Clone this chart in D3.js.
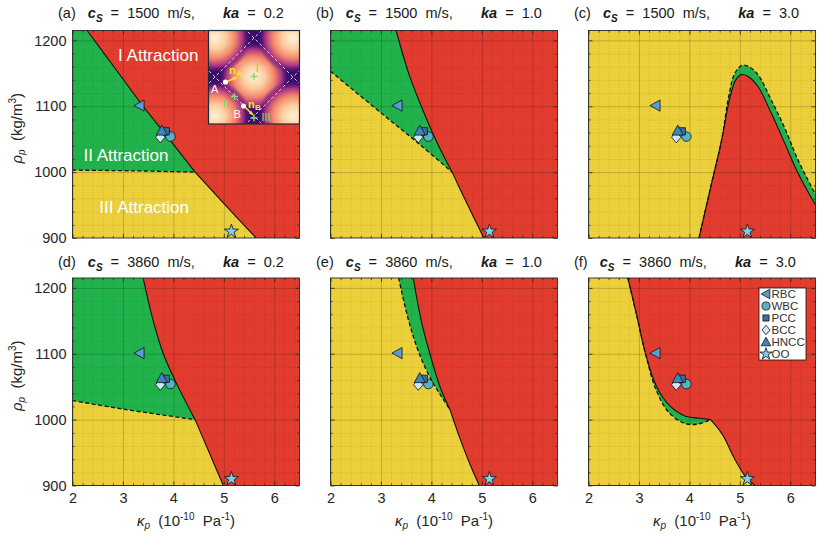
<!DOCTYPE html>
<html>
<head>
<meta charset="utf-8">
<script src="https://cdn.jsdelivr.net/npm/d3@7"></script>
<style>
  body { margin: 0; background: #fff; }
  text { font-family: Arial, "Liberation Sans", sans-serif; }
</style>
</head>
<body>
<script>
const W = 823, H = 537;

// axes
const kRange = [2, 6.5], rRange = [900, 1215];
const kTicks = [2, 3, 4, 5, 6], rTicks = [900, 1000, 1100, 1200];

// panel titles
const panelTags = ["(a)", "(b)", "(c)", "(d)", "(e)", "(f)"];
const soundSpeed = [1500, 1500, 1500, 3860, 3860, 3860];
const kaValues = ["0.2", "1.0", "3.0", "0.2", "1.0", "3.0"];

// region boundaries [kappa, rho]
// up* = solid I boundary above the junction, dash* = dashed II/III boundary, low* = shared solid below the junction
const upA   = [[2.29,1215],[2.85,1157],[3.40,1100],[3.92,1050],[4.43,1000]];
const dashA = [[2,1003],[3.2,1002],[4.43,1000]];
const lowA  = [[4.43,1000],[5.03,950],[5.64,900]];

const upB   = [[3.30,1215],[3.55,1150],[3.80,1100],[4.08,1050],[4.41,1000]];
const dashB = [[2,1153],[3,1090],[3.8,1040],[4.41,1000]];
const lowB  = [[4.41,1000],[4.72,950],[5.04,900]];

const solidC = [[4.19,900],[4.44,983],[4.64,1049],[4.80,1112],[4.92,1140],[5.03,1148],[5.15,1146],[5.36,1130],[5.62,1090],[5.89,1044],[6.15,999],[6.5,950]];
const dashC  = [[4.19,900],[4.44,983],[4.64,1049],[4.78,1115],[4.90,1150],[5.04,1162],[5.18,1160],[5.36,1148],[5.62,1110],[5.89,1067],[6.15,1019],[6.5,966]];

const upD   = [[3.40,1215],[3.60,1150],[3.80,1100],[4.08,1052],[4.43,1000]];
const dashD = [[2,1029],[3,1016],[4.43,1000]];
const lowD  = [[4.43,1000],[4.71,950],[4.99,900]];

const upE   = [[3.64,1215],[3.80,1150],[3.97,1100],[4.17,1050],[4.37,1015]];
const dashE = [[3.35,1215],[3.55,1150],[3.76,1100],[4.0,1060],[4.2,1035],[4.37,1015]];
const lowE  = [[4.37,1015],[4.55,975],[4.75,935],[4.95,900]];

const upF   = [[2.78,1215],[2.95,1160],[3.13,1100],[3.35,1050],[3.6,1022],[3.9,1006],[4.2,1002],[4.42,1000]];
const dashF = [[2.78,1215],[2.95,1160],[3.13,1100],[3.33,1047],[3.58,1012],[3.88,995],[4.15,993],[4.42,1000]];
const lowF  = [[4.42,1000],[4.65,978],[4.9,940],[5.1,915],[5.3,900]];

// cells
const cellNames = ["RBC", "WBC", "PCC", "BCC", "HNCC", "OO"];
const cellKappa = [3.33, 3.94, 3.85, 3.74, 3.77, 5.15];
const cellRho   = [1101, 1054, 1062, 1053, 1063, 910];
const cellColor = ["#5a9bd5", "#56b3c6", "#3d6f98", "#cfe7f8", "#3a87c0", "#86cdea"];

// region labels in (a)
const regionLabels = ["I Attraction", "II Attraction", "III Attraction"];
const labelK = [3.70, 3.06, 3.42];
const labelR = [1178, 1026, 947];

const col = { R: "#e23c2f", G: "#22b24c", Y: "#ecd03b" };
const BL = [2, 900], TL = [2, 1215], BR = [6.5, 900];

const panels = [
  { bg: "R", fills: [["G", [upA, lowA], [BL, TL]], ["Y", [dashA, lowA], [BL]]], solid: [upA, lowA], dash: [dashA] },
  { bg: "R", fills: [["G", [upB, lowB], [BL, TL]], ["Y", [dashB, lowB], [BL]]], solid: [upB, lowB], dash: [dashB] },
  { bg: "Y", fills: [["G", [dashC], [BR]], ["R", [solidC], [BR]]], solid: [solidC], dash: [dashC] },
  { bg: "R", fills: [["G", [upD, lowD], [BL, TL]], ["Y", [dashD, lowD], [BL]]], solid: [upD, lowD], dash: [dashD] },
  { bg: "R", fills: [["G", [upE, lowE], [BL, TL]], ["Y", [dashE, lowE], [BL, TL]]], solid: [upE, lowE], dash: [dashE] },
  { bg: "R", fills: [["G", [upF, lowF], [BL, TL]], ["Y", [dashF, lowF], [BL, TL]]], solid: [upF, lowF], dash: [dashF] }
];

const colLeft = [72.5, 330.5, 588.5], rowTop = [30.5, 278];
const pw = 227, ph = 207.5;

const svg = d3.select("body").append("svg").attr("width", W).attr("height", H);
const defs = svg.append("defs");

const x = d3.scaleLinear().domain(kRange).range([0, pw]);
const y = d3.scaleLinear().domain(rRange).range([ph, 0]);
const curve = d3.line().x(d => x(d[0])).y(d => y(d[1])).curve(d3.curveCatmullRom.alpha(0.5));

function joined(segs) {
  return segs.map((s, k) => k === 0 ? curve(s) : curve(s).replace(/^M/, "L")).join("");
}
function regionPath(segs, close) {
  let p = joined(segs);
  close.forEach(c => { p += "L" + x(c[0]) + "," + y(c[1]); });
  return p + "Z";
}

// marker shapes
function marker(name, s) {
  const r = 5.6 * s;
  if (name === "RBC") return `M${-r},0L${r*0.8},${-r}L${r*0.8},${r}Z`;
  if (name === "HNCC") return `M0,${-r}L${r},${r*0.8}L${-r},${r*0.8}Z`;
  if (name === "WBC") return d3.symbol(d3.symbolCircle, 72 * s * s)();
  if (name === "PCC") return d3.symbol(d3.symbolSquare, 52 * s * s)();
  if (name === "BCC") return `M0,${-r}L${r*0.85},0L0,${r}L${-r*0.85},0Z`;
  return d3.symbol(d3.symbolStar, 62 * s * s)();
}

function styleAxis(g) {
  g.select(".domain").remove();
  g.selectAll(".tick line").attr("stroke", "#262626").attr("stroke-width", 0.8);
  g.selectAll(".tick text").attr("fill", "#262626").attr("font-size", 14.5)
    .style("font-family", "Arial, 'Liberation Sans', sans-serif");
}
function gridStyle(dotted) {
  return a => {
    a.select(".domain").remove();
    a.selectAll("line").attr("stroke", dotted ? "rgba(0,0,0,0.22)" : "rgba(0,0,0,0.24)")
      .attr("stroke-width", dotted ? 0.6 : 0.8).attr("stroke-dasharray", dotted ? "1,2" : null);
  };
}

const minorK = x.ticks(22).filter(v => Math.abs(v - Math.round(v)) > 1e-6);
const minorR = y.ticks(16).filter(v => v % 100 !== 0);

panels.forEach((p, i) => {
  const ci = i % 3, ri = Math.floor(i / 3);
  const g = svg.append("g").attr("transform", `translate(${colLeft[ci]},${rowTop[ri]})`);

  defs.append("clipPath").attr("id", "clip" + i)
    .append("rect").attr("width", pw).attr("height", ph);
  const body = g.append("g").attr("clip-path", `url(#clip${i})`);

  body.append("rect").attr("width", pw).attr("height", ph).attr("fill", col[p.bg]);
  p.fills.forEach(f => {
    body.append("path").attr("d", regionPath(f[1], f[2])).attr("fill", col[f[0]]);
  });

  // grid
  body.append("g").attr("transform", `translate(0,${ph})`)
    .call(d3.axisBottom(x).tickValues(minorK).tickSize(-ph).tickFormat("")).call(gridStyle(true));
  body.append("g")
    .call(d3.axisLeft(y).tickValues(minorR).tickSize(-pw).tickFormat("")).call(gridStyle(true));
  body.append("g").attr("transform", `translate(0,${ph})`)
    .call(d3.axisBottom(x).tickValues(kTicks).tickSize(-ph).tickFormat("")).call(gridStyle(false));
  body.append("g")
    .call(d3.axisLeft(y).tickValues(rTicks).tickSize(-pw).tickFormat("")).call(gridStyle(false));

  // boundaries
  p.dash.forEach(s => body.append("path").attr("d", curve(s)).attr("fill", "none")
    .attr("stroke", "#111").attr("stroke-width", 1.3).attr("stroke-dasharray", "4,2.5"));
  body.append("path").attr("d", joined(p.solid)).attr("fill", "none")
    .attr("stroke", "#111").attr("stroke-width", 1.1).attr("stroke-linejoin", "round");

  // region labels
  if (i === 0) {
    regionLabels.forEach((t, j) => {
      body.append("text").attr("x", x(labelK[j])).attr("y", y(labelR[j]) + 6)
        .attr("text-anchor", "middle").attr("fill", "#fff").attr("font-size", 17).text(t);
    });
  }

  // cells
  cellNames.forEach((n, j) => {
    g.append("path").attr("d", marker(n, 1))
      .attr("transform", `translate(${x(cellKappa[j])},${y(cellRho[j])})`)
      .attr("fill", cellColor[j]).attr("stroke", "#111").attr("stroke-width", 0.8);
  });

  // frame and ticks
  g.append("rect").attr("width", pw).attr("height", ph).attr("fill", "none")
    .attr("stroke", "#262626").attr("stroke-width", 0.9);
  const bottomLab = ri === 1;
  g.append("g").attr("transform", `translate(0,${ph})`)
    .call(d3.axisBottom(x).tickValues(kTicks).tickSize(-4).tickPadding(7).tickFormat(bottomLab ? d3.format("d") : ""))
    .call(styleAxis);
  g.append("g").attr("transform", `translate(0,${ph})`)
    .call(d3.axisBottom(x).tickValues(minorK).tickSize(-2).tickFormat("")).call(styleAxis);
  g.append("g").call(d3.axisTop(x).tickValues(kTicks).tickSize(-4).tickFormat("")).call(styleAxis);
  g.append("g").call(d3.axisTop(x).tickValues(minorK).tickSize(-2).tickFormat("")).call(styleAxis);
  g.append("g")
    .call(d3.axisLeft(y).tickValues(rTicks).tickSize(-4).tickPadding(6).tickFormat(ci === 0 ? d3.format("d") : ""))
    .call(styleAxis);
  g.append("g").call(d3.axisLeft(y).tickValues(minorR).tickSize(-2).tickFormat("")).call(styleAxis);
  g.append("g").attr("transform", `translate(${pw},0)`)
    .call(d3.axisRight(y).tickValues(rTicks).tickSize(-4).tickFormat("")).call(styleAxis);
  g.append("g").attr("transform", `translate(${pw},0)`)
    .call(d3.axisRight(y).tickValues(minorR).tickSize(-2).tickFormat("")).call(styleAxis);

  // title
  const t = g.append("text").attr("x", -14.5).attr("y", ri === 0 ? -12.2 : -11.5)
    .attr("font-size", 14.5).attr("fill", "#1a1a1a").attr("xml:space", "preserve").style("white-space", "pre");
  t.append("tspan").text(panelTags[i] + "   ");
  t.append("tspan").attr("font-weight", "bold").attr("font-style", "italic").text("c");
  t.append("tspan").attr("font-weight", "bold").attr("font-style", "italic").attr("font-size", 10).attr("dy", 4).text("S");
  t.append("tspan").attr("dy", -4).text("  =  " + soundSpeed[i] + "  m/s,       ");
  t.append("tspan").attr("font-weight", "bold").attr("font-style", "italic").text("ka");
  t.append("tspan").text("  =  " + kaValues[i]);

  // axis labels
  if (ci === 0) {
    const yl = g.append("text").attr("transform", `translate(-50.5,${ph / 2 - 6}) rotate(-90)`)
      .attr("text-anchor", "middle").attr("font-size", 15).attr("fill", "#262626")
      .attr("xml:space", "preserve").style("white-space", "pre");
    yl.append("tspan").attr("font-style", "italic").text("ρ");
    yl.append("tspan").attr("font-style", "italic").attr("font-size", 10).attr("dy", 3).text("p");
    yl.append("tspan").attr("dy", -3).text("  (kg/m");
    yl.append("tspan").attr("font-size", 10).attr("dy", -6).text("3");
    yl.append("tspan").attr("dy", 6).text(")");
  }
  if (bottomLab) {
    const xl = g.append("text").attr("x", pw / 2).attr("y", ph + 40.5)
      .attr("text-anchor", "middle").attr("font-size", 15).attr("fill", "#262626")
      .attr("xml:space", "preserve").style("white-space", "pre");
    xl.append("tspan").attr("font-style", "italic").text("κ");
    xl.append("tspan").attr("font-style", "italic").attr("font-size", 10).attr("dy", 3).text("p");
    xl.append("tspan").attr("dy", -3).text("  (10");
    xl.append("tspan").attr("font-size", 10).attr("dy", -6).text("-10");
    xl.append("tspan").attr("dy", 6).text("  Pa");
    xl.append("tspan").attr("font-size", 10).attr("dy", -6).text("-1");
    xl.append("tspan").attr("dy", 6).text(")");
  }

  // inset in (a)
  if (i === 0) {
    const iw = 91, ih = 93.5, ix = pw - iw, iy = 0;
    const ins = g.append("g").attr("transform", `translate(${ix},${iy})`);
    defs.append("clipPath").attr("id", "insclip").append("rect").attr("width", iw).attr("height", ih);
    const rg = defs.append("radialGradient").attr("id", "blob");
    [[0, "#fdf3d8", 1], [0.32, "#fccd9f", 1], [0.58, "#f4876b", 1], [0.8, "#a83182", 1], [1, "#3b0f70", 0]]
      .forEach(s => rg.append("stop").attr("offset", s[0]).attr("stop-color", s[1]).attr("stop-opacity", s[2]));
    const ib = ins.append("g").attr("clip-path", "url(#insclip)");
    ib.append("rect").attr("width", iw).attr("height", ih).attr("fill", "#3a0d6c");
    const cx = 45.5, cy = 46.5, hd = 39;
    [[0, 0], [-1, -1], [1, -1], [-1, 1], [1, 1]].forEach(o => {
      ib.append("circle").attr("cx", cx + o[0] * hd).attr("cy", cy + o[1] * hd).attr("r", 35).attr("fill", "url(#blob)");
    });
    // dashed nodal lines of the diamond, extended past its vertices
    [-hd, hd].forEach(off => {
      ib.append("line").attr("x1", cx - 80).attr("y1", cy + off + 80).attr("x2", cx + 80).attr("y2", cy + off - 80)
        .attr("stroke", "#ece6f2").attr("stroke-width", 0.9).attr("stroke-dasharray", "3,2.5");
      ib.append("line").attr("x1", cx - 80).attr("y1", cy + off - 80).attr("x2", cx + 80).attr("y2", cy + off + 80)
        .attr("stroke", "#ece6f2").attr("stroke-width", 0.9).attr("stroke-dasharray", "3,2.5");
    });
    ins.append("rect").attr("width", iw).attr("height", ih).attr("fill", "none").attr("stroke", "#1d2b38").attr("stroke-width", 1.2);

    const green = "#82dc6c", yel = "#f7e81a";
    const plus = (px, py) => ins.append("path").attr("d", `M${px - 3.5},${py}H${px + 3.5}M${px},${py - 3.5}V${py + 3.5}`)
      .attr("stroke", green).attr("stroke-width", 1.4);
    plus(45.5, 46); plus(26, 66); plus(45.5, 87.5);
    const arrow = (x1, y1, x2, y2) => {
      const a = Math.atan2(y2 - y1, x2 - x1), L = 4;
      ins.append("line").attr("x1", x1).attr("y1", y1).attr("x2", x2).attr("y2", y2).attr("stroke", yel).attr("stroke-width", 1.6);
      ins.append("path").attr("d", `M${x2 + Math.cos(a) * 1.5},${y2 + Math.sin(a) * 1.5}L${x2 - L * Math.cos(a - 0.5)},${y2 - L * Math.sin(a - 0.5)}L${x2 - L * Math.cos(a + 0.5)},${y2 - L * Math.sin(a + 0.5)}Z`).attr("fill", yel);
    };
    arrow(17.5, 51.5, 28, 47);
    arrow(35.5, 75.5, 44, 84);
    ins.append("circle").attr("cx", 17).attr("cy", 51.5).attr("r", 2.6).attr("fill", "#fff");
    ins.append("circle").attr("cx", 35).attr("cy", 75.5).attr("r", 2.6).attr("fill", "#fff");
    const lab = (tx, ty, txt, c, fs, fw) => ins.append("text").attr("x", tx).attr("y", ty).attr("fill", c)
      .attr("font-size", fs).attr("font-weight", fw || "normal").text(txt);
    lab(2.5, 62, "A", "#fff", 11);
    lab(25, 87.5, "B", "#fff", 11);
    lab(20.5, 43, "n", yel, 11, "bold"); lab(27.5, 45.5, "A", yel, 8, "bold");
    lab(39.5, 77, "n", yel, 11, "bold"); lab(46.5, 79.5, "B", yel, 8, "bold");
    lab(47, 41, "I", green, 11);
    lab(14, 77, "II", green, 11);
    lab(53, 90, "III", green, 11);
  }

  // legend in (f)
  if (i === 5) {
    const lx = 170.5, ly = 10, lw = 47, lh = 72;
    const lg = g.append("g").attr("transform", `translate(${lx},${ly})`);
    lg.append("rect").attr("width", lw).attr("height", lh).attr("fill", "#fff").attr("stroke", "#111").attr("stroke-width", 0.8);
    cellNames.forEach((n, j) => {
      const yy = 6 + j * 12;
      lg.append("path").attr("d", marker(n, 0.85)).attr("transform", `translate(7,${yy})`)
        .attr("fill", cellColor[j]).attr("stroke", "#111").attr("stroke-width", 0.8);
      lg.append("text").attr("x", 12.5).attr("y", yy + 4).attr("font-size", 11.5).attr("fill", "#333").text(n);
    });
  }
});
</script>
</body>
</html>
